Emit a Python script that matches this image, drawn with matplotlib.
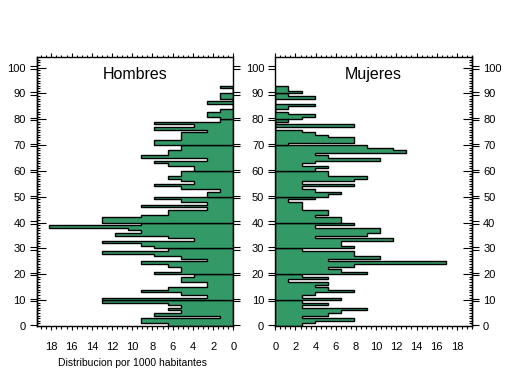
import matplotlib
matplotlib.use('Agg')
import matplotlib.pyplot as plt
from matplotlib.patches import Polygon
from matplotlib.ticker import MultipleLocator, FixedLocator

plt.rcParams['font.family'] = ['Liberation Sans', 'DejaVu Sans']

# Distribution per 1000 inhabitants, one value per year of age (0..92)
hombres = [6.5, 9.1, 9.1, 1.3, 7.8, 5.2, 6.5, 5.2, 6.5, 13.0,
           13.0, 2.6, 5.2, 9.1, 6.5, 2.6, 2.6, 5.2, 5.2, 3.9,
           7.8, 5.2, 5.2, 6.5, 9.1, 2.6, 5.2, 7.8, 13.0, 6.5,
           7.8, 9.1, 13.0, 3.9, 6.5, 11.7, 9.1, 10.4, 18.2, 9.1,
           13.0, 13.0, 9.1, 6.5, 6.5, 2.6, 9.1, 2.6, 5.2, 7.8,
           2.6, 2.6, 1.3, 5.2, 7.8, 3.9, 5.2, 6.5, 5.2, 5.2,
           3.9, 3.9, 6.5, 7.8, 2.6, 9.1, 6.5, 6.5, 5.2, 5.2,
           7.8, 7.8, 5.2, 5.2, 5.2, 2.6, 7.8, 3.9, 7.8, 1.3,
           1.3, 2.6, 2.6, 1.3, 0.0, 0.0, 2.6, 0.0, 1.3, 1.3,
           0.0, 0.0, 1.3]

mujeres = [2.6, 3.9, 7.8, 2.6, 5.2, 6.5, 9.1, 2.6, 5.2, 2.6,
           6.5, 2.6, 3.9, 7.8, 5.2, 3.9, 5.2, 1.3, 5.2, 2.6,
           9.1, 6.5, 5.2, 7.8, 16.9, 5.2, 10.4, 7.8, 7.8, 2.6,
           7.8, 6.5, 6.5, 11.7, 3.9, 9.1, 10.4, 10.4, 3.9, 7.8,
           6.5, 6.5, 3.9, 5.2, 5.2, 2.6, 2.6, 2.6, 1.3, 3.9,
           5.2, 6.5, 3.9, 2.6, 7.8, 2.6, 7.8, 9.1, 5.2, 5.2,
           3.9, 5.2, 2.6, 3.9, 10.4, 5.2, 3.9, 13.0, 11.7, 9.1,
           1.3, 7.8, 7.8, 5.2, 3.9, 2.6, 0.0, 7.8, 0.0, 1.3,
           2.6, 3.9, 1.3, 0.0, 1.3, 3.9, 0.0, 0.0, 3.9, 1.3,
           2.6, 1.3, 1.3]

x_ticks = list(range(0, 19, 2))
y_ticks = list(range(0, 101, 10))
GREEN = '#339966'

W, H = 509, 376
fig = plt.figure(figsize=(W / 100, H / 100), dpi=100)
axL = fig.add_axes([36.7 / W, 50 / H, 196.6 / W, 268.7 / H])
axR = fig.add_axes([275.3 / W, 50 / H, 196.7 / W, 268.7 / H])


def draw_pyramid(ax, values):
    # one outlined step polygon for every decade of ages
    for start in range(0, len(values), 10):
        chunk = values[start:start + 10]
        verts = [(0, start)]
        for i, v in enumerate(chunk):
            verts.append((v, start + i))
            verts.append((v, start + i + 1))
        verts.append((0, start + len(chunk)))
        ax.add_patch(Polygon(verts, closed=True, facecolor=GREEN,
                             edgecolor='black', lw=1.0, joinstyle='miter'))


def style(ax, outer, labels_left, labels_right):
    ax.set_ylim(0, 104)
    for s in ax.spines.values():
        s.set_linewidth(1.0)
    # x ticks
    ax.set_xticks(x_ticks)
    ax.xaxis.set_minor_locator(MultipleLocator(0.5))
    ax.tick_params(axis='x', which='major', direction='out', length=3.2,
                   width=0.8, top=True, bottom=True, labelsize=8, pad=8.5)
    ax.tick_params(axis='x', which='minor', direction='out', length=1.8,
                   width=0.8, top=True, bottom=True)
    # y ticks: double outward marks at each decade
    ax.set_yticks(y_ticks)
    ax.yaxis.set_minor_locator(FixedLocator(
        [d + o for d in y_ticks for o in (-0.45, 0.45)]))
    ax.tick_params(axis='y', which='major', length=0, left=True, right=True,
                   labelleft=labels_left, labelright=labels_right,
                   labelsize=8, pad=8)
    ax.tick_params(axis='y', which='minor', direction='out', length=4.8,
                   width=0.8, left=True, right=True)
    # inward ticks every year on the outer side
    sec = ax.secondary_yaxis(outer)
    sec.set_yticks(y_ticks)
    sec.set_yticklabels([])
    sec.yaxis.set_minor_locator(MultipleLocator(1))
    sec.tick_params(which='major', direction='in', length=6.5, width=0.8)
    sec.tick_params(which='minor', direction='in', length=2.5, width=0.8)
    sec.spines[outer].set_linewidth(1.0)


draw_pyramid(axL, hombres)
axL.set_xlim(19.45, 0)
style(axL, 'left', True, False)
axL.text(0.5, 0.935, 'Hombres', transform=axL.transAxes, ha='center',
         va='center', fontsize=11.5)

draw_pyramid(axR, mujeres)
axR.set_xlim(0, 19.5)
style(axR, 'right', True, True)
axR.text(0.5, 0.935, 'Mujeres', transform=axR.transAxes, ha='center',
         va='center', fontsize=11.5)

fig.text(133 / W, 1 - 363 / H, 'Distribucion por 1000 habitantes',
         ha='center', va='center', fontsize=7.5)

fig.savefig('out.png', dpi=100)
